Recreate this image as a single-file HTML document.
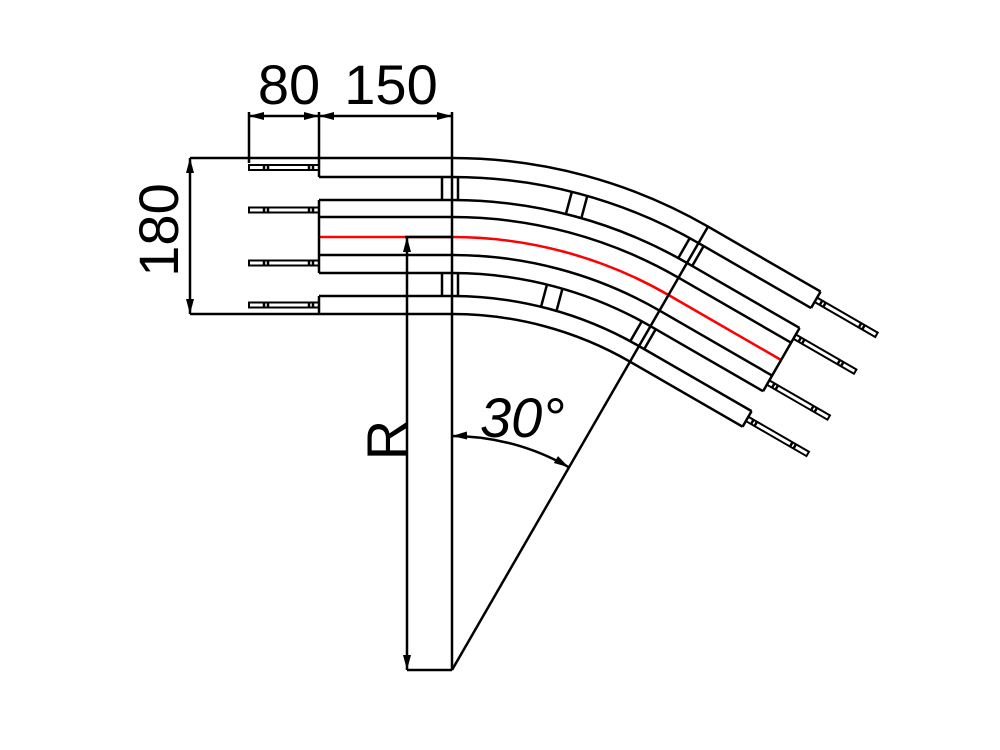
<!DOCTYPE html>
<html><head><meta charset="utf-8"><style>
html,body{margin:0;padding:0;background:#fff}
svg{display:block}
text{font-family:"Liberation Sans",sans-serif;font-size:56px;fill:#000}
</style></head><body>
<svg id="s" width="1000" height="750" viewBox="0 0 1000 750" xmlns="http://www.w3.org/2000/svg">
<g id="g" fill="none" stroke="#000" stroke-width="2.5"></g>
<text x="289" y="104" text-anchor="middle">80</text>
<text x="391" y="104" text-anchor="middle">150</text>
<text transform="translate(178,230) rotate(-90)" text-anchor="middle">180</text>
<text transform="translate(406,440) rotate(-90)" text-anchor="middle">R</text>
<text x="480" y="437" font-style="italic">30°</text>
</svg>
<script>
var g=document.getElementById('g'),NS='http://www.w3.org/2000/svg';
var cx=452,cy=670,D=Math.PI/180;
function pt(r,a){return [cx+r*Math.sin(a*D),cy-r*Math.cos(a*D)];}
function el(t,at){var e=document.createElementNS(NS,t);for(var k in at)e.setAttribute(k,at[k]);g.appendChild(e);return e;}
function line(a,b,c){el('line',{x1:a[0],y1:a[1],x2:b[0],y2:b[1],stroke:c||'#000'});}
var u=[Math.cos(30*D),Math.sin(30*D)],nrm=[Math.sin(30*D),-Math.cos(30*D)];
var L=130;
function endp(r,t){var p=pt(r,30);return [p[0]+u[0]*t,p[1]+u[1]*t];}
function track(r,x0,col){var p=pt(r,30),e=endp(r,L);
 el('path',{d:'M'+x0+','+(cy-r)+' L'+cx+','+(cy-r)+' A'+r+','+r+' 0 0 1 '+p[0]+','+p[1]+' L'+e[0]+','+e[1],stroke:col||'#000'});}
[512,493,470,453,415,397,374,356].forEach(function(r){track(r,319);});
track(433,319,'#f00');
line([405,237],[452,237]);
[[512,493],[470,397],[374,356]].forEach(function(p){
 line([319,cy-p[0]],[319,cy-p[1]]);line(endp(p[0],L),endp(p[1],L));});
line([190,158],[319,158]);line([190,314],[319,314]);
line([452,112],[452,670]);line([319,112],[319,158]);line([249,112],[249,163]);
line([cx,cy],pt(512,30));
function band(a,r1,r2,s1,s2){[s1,s2].forEach(function(s){
 var t=[Math.cos(a*D),Math.sin(a*D)],p=pt(r1,a),q=pt(r2,a);
 line([p[0]+t[0]*s,p[1]+t[1]*s],[q[0]+t[0]*s,q[1]+t[1]*s]);});}
band(0,493,470,-10,6);band(0,397,374,-10,6);
band(15,493,470,-8,8);band(15,397,374,-8,8);
band(30,493,470,-10,6);band(30,397,374,-10,6);
function pin(P,d,n){var h=2.5,l=70;
 var a=[P[0]+n[0]*h,P[1]+n[1]*h],b=[P[0]-n[0]*h,P[1]-n[1]*h];
 el('polygon',{points:[a,[a[0]+d[0]*l,a[1]+d[1]*l],[b[0]+d[0]*l,b[1]+d[1]*l],b].map(function(p){return p.join(',')}).join(' '),'stroke-width':2});
 [6,10,51,55].forEach(function(s){line([a[0]+d[0]*s,a[1]+d[1]*s],[b[0]+d[0]*s,b[1]+d[1]*s]);});}
[167.5,210,263,305].forEach(function(y){pin([319,y],[-1,0],[0,1]);});
[502.5,460,407,365].forEach(function(r){pin(endp(r,L),u,nrm);});
function arrow(tip,dir){var l=15,w=4,n=[-dir[1],dir[0]];
 var b=[tip[0]-dir[0]*l,tip[1]-dir[1]*l];
 el('polygon',{points:[tip,[b[0]+n[0]*w,b[1]+n[1]*w],[b[0]-n[0]*w,b[1]-n[1]*w]].map(function(p){return p.join(',')}).join(' '),fill:'#000',stroke:'none'});}
line([249,116],[452,116]);
arrow([249,116],[-1,0]);arrow([319,116],[1,0]);arrow([319,116],[-1,0]);arrow([452,116],[1,0]);
line([190,158],[190,314]);arrow([190,158],[0,-1]);arrow([190,314],[0,1]);
line([407,237],[407,670]);line([407,670],[452,670]);arrow([407,237],[0,-1]);arrow([407,670],[0,1]);
var ra=234,q=pt(ra,30);
el('path',{d:'M'+cx+','+(cy-ra)+' A'+ra+','+ra+' 0 0 1 '+q[0]+','+q[1]});
arrow([cx,cy-ra],[-1,0.03]);arrow(q,[Math.cos(30*D)*0.97+0.03,Math.sin(30*D)+0.02]);
</script>
</body></html>
